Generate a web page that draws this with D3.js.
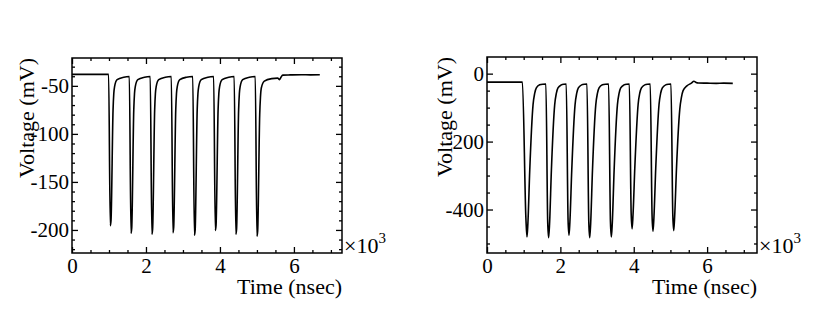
<!DOCTYPE html>
<meta charset="utf-8">
<style>
body { margin: 0; background: #fff; }
svg { display: block; }
text { font-family: "Liberation Serif", "Times New Roman", serif; fill: #000; }
</style>
<body>
<div id="chart"></div>
<script src="https://d3js.org/d3.v7.min.js"></script>
<script>

// waveform (time in nsec, voltage in mV)
var leftTime = [0, 990, 1035, 1055, 1110, 1130, 1150, 1220, 1400, 1550,
  1595, 1615, 1670, 1690, 1710, 1780, 1960, 2115,
  2160, 2180, 2235, 2255, 2275, 2345, 2525, 2685,
  2730, 2750, 2805, 2825, 2845, 2915, 3095, 3265,
  3310, 3330, 3385, 3405, 3425, 3495, 3675, 3830,
  3875, 3895, 3950, 3970, 3990, 4060, 4240, 4385,
  4430, 4450, 4505, 4525, 4545, 4615, 4795, 4955,
  5000, 5020, 5075, 5095, 5120, 5200, 5400, 5560, 5615, 5650, 5700, 5900, 6200, 6450, 6700];
var leftVolt = [-38, -38, -195.5, -190, -75, -58, -51, -43.5, -41, -40.3,
  -203.5, -198, -75, -58, -51, -43.5, -41, -40.3,
  -204.5, -199, -75, -58, -51, -43.5, -41, -40.3,
  -203, -197, -75, -58, -51, -43.5, -41, -40.3,
  -205.5, -200, -75, -58, -51, -43.5, -41, -40.3,
  -200.5, -195, -75, -58, -51, -43.5, -41, -40.3,
  -204.5, -199, -75, -58, -51, -43.5, -41, -40.3,
  -206.5, -201, -80, -62, -52, -45, -42.5, -42, -43.5, -41, -38.8, -38.6, -38.4, -38.6, -38.5];

// waveform
var rightTime = [0, 965, 1060, 1090, 1115, 1165, 1255, 1300, 1345, 1435, 1520, 1605,
  1655, 1680, 1705, 1755, 1845, 1890, 1935, 2025, 2100, 2160,
  2210, 2235, 2260, 2310, 2400, 2445, 2490, 2580, 2660, 2725,
  2775, 2800, 2825, 2875, 2965, 3010, 3055, 3145, 3230, 3315,
  3365, 3390, 3415, 3465, 3555, 3600, 3645, 3735, 3810, 3880,
  3930, 3955, 3980, 4030, 4120, 4165, 4210, 4300, 4380, 4450,
  4500, 4525, 4550, 4600, 4690, 4735, 4780, 4870, 4950, 5015,
  5065, 5090, 5115, 5165, 5255, 5300, 5345, 5450, 5570, 5640, 5700, 5760, 6000, 6250, 6450, 6700];
var rightVolt = [-25, -25, -425, -481, -440, -285, -92, -58, -42, -33, -31, -30.5,
  -438, -483, -443, -285, -92, -58, -42, -33, -31, -30.5,
  -431, -476, -436, -285, -92, -58, -42, -33, -31, -30.5,
  -438, -483, -443, -285, -92, -58, -42, -33, -31, -30.5,
  -436, -481, -441, -285, -92, -58, -42, -33, -31, -30.5,
  -412, -457, -417, -275, -90, -57, -42, -33, -31, -30.5,
  -419, -464, -424, -278, -90, -57, -42, -33, -31, -30.5,
  -417, -462, -422, -280, -105, -70, -50, -36, -28, -22.5, -26, -27.5, -28, -28.5, -28, -28.5];

// ticks
var xMajor = [0, 2000, 4000, 6000];
var xMinor = [500, 1000, 1500, 2500, 3000, 3500, 4500, 5000, 5500, 6500, 7000];
var leftYMajor = [-50, -100, -150, -200];
var leftYMinor = [-30, -40, -60, -70, -80, -90, -110, -120, -130, -140, -160, -170, -180, -190, -210, -220];
var rightYMajor = [0, -200, -400];
var rightYMinor = [-50, -100, -150, -250, -300, -350, -450, -500];

var xTitle = "Time (nsec)";
var yTitle = "Voltage (mV)";

var svg = d3.select("#chart")
  .append("svg")
    .attr("width", 830)
    .attr("height", 311);

function drawPanel(p) {
  var x = d3.scaleLinear().domain([0, p.xMax]).range([p.left, p.right]);
  var y = d3.scaleLinear().domain(p.yDomain).range([p.bottom, p.top]);

  var g = svg.append("g");

  // bottom axis with labels
  var bx = g.append("g")
    .attr("transform", "translate(0," + p.bottom + ")")
    .call(d3.axisBottom(x).tickValues(xMajor).tickSize(-6).tickPadding(5)
      .tickFormat(function(d) { return String(d / 1000); }));
  bx.style("font-size", "21px");
  g.append("g")
    .attr("transform", "translate(0," + p.bottom + ")")
    .call(d3.axisBottom(x).tickValues(xMinor).tickSize(-3).tickFormat(""));

  // top mirror ticks
  g.append("g")
    .attr("transform", "translate(0," + p.top + ")")
    .call(d3.axisTop(x).tickValues(xMajor).tickSize(-6).tickFormat(""));
  g.append("g")
    .attr("transform", "translate(0," + p.top + ")")
    .call(d3.axisTop(x).tickValues(xMinor).tickSize(-3).tickFormat(""));

  // left axis with labels
  var ly = g.append("g")
    .attr("transform", "translate(" + p.left + ",0)")
    .call(d3.axisLeft(y).tickValues(p.yMajor).tickSize(-6).tickPadding(3)
      .tickFormat(function(d) { return String(d); }));
  ly.style("font-size", "21px");
  g.append("g")
    .attr("transform", "translate(" + p.left + ",0)")
    .call(d3.axisLeft(y).tickValues(p.yMinor).tickSize(-3).tickFormat(""));

  // right mirror ticks
  g.append("g")
    .attr("transform", "translate(" + p.right + ",0)")
    .call(d3.axisRight(y).tickValues(p.yMajor).tickSize(-6).tickFormat(""));
  g.append("g")
    .attr("transform", "translate(" + p.right + ",0)")
    .call(d3.axisRight(y).tickValues(p.yMinor).tickSize(-3).tickFormat(""));

  g.selectAll(".domain").remove();
  g.selectAll(".tick line").attr("stroke", "#000").attr("stroke-width", 1.3);
  g.selectAll(".tick text").attr("fill", "#000").style("font-family", "Liberation Serif, serif");

  // frame
  g.append("rect")
    .attr("x", p.left)
    .attr("y", p.top)
    .attr("width", p.right - p.left)
    .attr("height", p.bottom - p.top)
    .attr("fill", "none")
    .attr("stroke", "#000")
    .attr("stroke-width", 1.5);

  // the trace
  var pts = p.time.map(function(t, i) { return [t, p.volt[i]]; });
  var line = d3.line()
    .x(function(d) { return x(d[0]); })
    .y(function(d) { return y(d[1]); })
    .curve(d3.curveMonotoneX);
  g.append("path")
    .datum(pts)
    .attr("d", line)
    .attr("fill", "none")
    .attr("stroke", "#000")
    .attr("stroke-width", 1.6)
    .attr("stroke-linejoin", "round");

  // axis titles
  g.append("text")
    .attr("x", p.right)
    .attr("y", 294)
    .attr("text-anchor", "end")
    .style("font-size", "22px")
    .text(xTitle);

  g.append("text")
    .attr("transform", "translate(" + p.yTitleX + "," + p.top + ") rotate(-90)")
    .attr("text-anchor", "end")
    .style("font-size", "22px")
    .text(yTitle);

  // exponent
  var ex = g.append("text")
    .attr("x", p.right + 2)
    .attr("y", 253)
    .style("font-size", "22px");
  ex.append("tspan").text("\u00d710");
  ex.append("tspan")
    .attr("dy", -10)
    .style("font-size", "15px")
    .text("3");
}

drawPanel({
  time: leftTime, volt: leftVolt,
  left: 72, right: 342, top: 58, bottom: 253,
  xMax: 7300, yDomain: [-224, -21],
  yMajor: leftYMajor, yMinor: leftYMinor,
  yTitleX: 33.5
});

drawPanel({
  time: rightTime, volt: rightVolt,
  left: 487, right: 757, top: 57, bottom: 253,
  xMax: 7360, yDomain: [-528, 49],
  yMajor: rightYMajor, yMinor: rightYMinor,
  yTitleX: 451.5
});

</script>
</body>
